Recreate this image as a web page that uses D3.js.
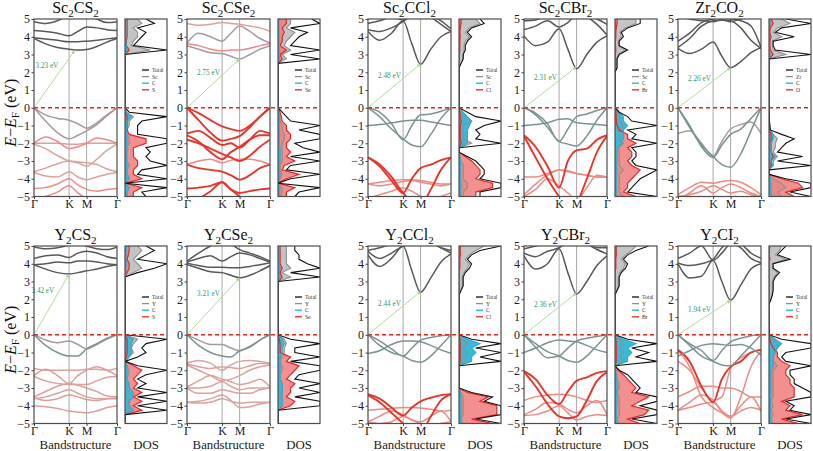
<!DOCTYPE html>
<html><head><meta charset="utf-8">
<script src="https://cdnjs.cloudflare.com/ajax/libs/d3/7.8.5/d3.min.js"></script>
<style>body{margin:0;background:#fff} svg{display:block} text{font-family:"Liberation Serif","Times New Roman",serif}</style>
</head><body><svg id="c" width="813" height="451"></svg>
<script>
// ---------- shared axes data ----------
const kNodes = [0, 1, 1.5, 2.366];
const kLabels = ["Γ", "K", "M", "Γ"];
const kSamples = [0, 0.33, 0.67, 1, 1.25, 1.5, 1.79, 2.08, 2.366];
const energyTicks = [5, 4, 3, 2, 1, 0, -1, -2, -3, -4, -5];
const dosEnergy = [-5,-4.75,-4.5,-4.25,-4,-3.75,-3.5,-3.25,-3,-2.75,-2.5,-2.25,-2,-1.75,-1.5,-1.25,-1,-0.75,-0.5,-0.25,
  0,0.25,0.5,0.75,1,1.25,1.5,1.75,2,2.25,2.5,2.75,3,3.25,3.5,3.75,4,4.25,4.5,4.75,5];

// ---------- panel descriptors ----------
const titles = [["Sc","2","CS","2"],["Sc","2","CSe","2"],["Sc","2","CCl","2"],["Sc","2","CBr","2"],["Zr","2","CO","2"],
                ["Y","2","CS","2"],["Y","2","CSe","2"],["Y","2","CCl","2"],["Y","2","CBr","2"],["Y","2","CI","2"]];
const metals = ["Sc","Sc","Sc","Sc","Zr","Y","Y","Y","Y","Y"];
const anions = ["S","Se","Cl","Br","O","S","Se","Cl","Br","I"];
const gapValues = [3.23, 2.75, 2.48, 2.31, 2.26, 3.42, 3.21, 2.44, 2.36, 1.94];
const cbmK = [1.16, 1.5, 1.5, 1.5, 1.5, 1.0, 1.5, 1.5, 1.5, 1.5];

// ---------- band structures (E at kSamples) ----------
const bands_Sc2CS2 = [
 [3.9,3.6,3.4,3.3,3.25,3.28,3.45,3.7,3.9],[3.95,3.88,3.8,3.72,3.72,3.75,3.8,3.88,3.95],
 [4.35,4.3,4.2,4.05,4.3,4.55,4.5,4.4,4.35],[4.85,4.75,4.9,5.2,5.2,5.2,5.0,4.8,4.85],
 [0,-0.4,-0.6,-0.7,-0.9,-1.15,-0.85,-0.4,0],[0,-0.75,-1.4,-1.75,-1.55,-1.3,-0.95,-0.45,0],
 [-2.0,-1.65,-1.9,-2.3,-2.2,-2.0,-1.7,-1.8,-2.0],[-2.0,-2.0,-2.0,-2.05,-2.05,-2.0,-2.0,-2.0,-2.0],
 [-2.05,-2.3,-2.7,-3.0,-3.1,-3.3,-2.9,-2.4,-2.05],[-3.6,-3.4,-3.15,-3.0,-3.05,-3.1,-3.2,-3.45,-3.6],
 [-3.65,-3.85,-3.9,-3.6,-3.9,-4.05,-3.9,-3.75,-3.65],[-4.55,-4.5,-4.3,-4.0,-4.35,-4.6,-4.7,-4.6,-4.55],
 [-5.2,-5.0,-4.75,-4.4,-4.8,-5.1,-5.2,-5.2,-5.2]];
const kinds_Sc2CS2 = ["M","M","M","M","MCX","MCX","Xl","XM","XM","XM","XM","Xl","Xl"];

const bands_Sc2CSe2 = [
 [3.5,3.3,3.1,3.05,2.9,2.75,3.0,3.3,3.5],[3.6,3.5,3.3,3.2,3.25,3.25,3.35,3.5,3.6],
 [3.65,4.2,4.0,3.75,4.2,4.6,4.3,3.9,3.65],[4.75,4.65,4.7,4.8,4.75,4.7,4.6,4.5,4.3],
 [0,-0.3,-0.7,-1.05,-1.2,-1.3,-1.0,-0.5,0],[0,-0.7,-1.4,-1.85,-1.75,-1.6,-1.1,-0.5,0],
 [-1.45,-1.3,-1.7,-2.1,-2.0,-2.25,-1.8,-1.3,-1.45],[-1.55,-1.9,-2.5,-2.9,-2.5,-2.2,-1.8,-1.55,-1.55],
 [-1.8,-2.0,-2.3,-2.6,-2.8,-3.0,-2.7,-2.2,-1.8],[-3.2,-3.0,-2.9,-3.1,-2.95,-2.9,-2.9,-3.0,-3.2],
 [-3.2,-3.4,-3.5,-3.6,-3.8,-4.05,-3.8,-3.4,-3.2],[-4.55,-4.5,-4.4,-4.2,-4.6,-4.8,-4.7,-4.6,-4.55],
 [-5.3,-5.1,-4.7,-4.2,-4.6,-5.0,-5.3,-5.3,-5.3]];
const kinds_Sc2CSe2 = ["MCX","Xl","MCX","XM","X","X","X","X","X","Xl","X","X","X"];

const bands_Sc2CCl2 = [
 [4.3,3.8,4.2,4.9,3.6,2.45,3.3,4.0,4.3],[4.75,4.9,5.1,4.95,5.3,5.4,5.2,4.9,4.45],
 [4.4,4.3,4.5,4.85,5.2,5.3,5.1,4.7,4.3],
 [0,-0.5,-1.2,-1.75,-2.1,-2.2,-1.5,-0.6,0],[0,-0.25,-0.9,-1.8,-1.0,-0.4,-0.35,-0.2,0],
 [-1.0,-0.95,-0.85,-0.75,-0.7,-0.7,-0.8,-0.9,-1.0],
 [-2.8,-3.3,-4.1,-4.8,-4.0,-3.4,-3.2,-2.95,-2.8],[-2.8,-3.2,-3.9,-4.8,-5.3,-5.5,-4.6,-3.5,-2.8],
 [-4.3,-4.2,-4.1,-4.05,-4.05,-4.1,-4.2,-4.3,-4.3],[-4.3,-4.4,-4.3,-4.15,-4.1,-4.2,-4.3,-4.4,-4.3],
 [-5.1,-4.9,-4.7,-4.5,-4.7,-5.0,-5.3,-5.0,-4.8]];
const kinds_Sc2CCl2 = ["M","M","M","MC","MC","MC","X","X","Xl","Xl","Xl"];

const bands_Sc2CBr2 = [
 [4.05,3.5,3.7,4.45,3.3,2.2,3.0,3.7,4.05],[4.4,4.6,4.9,4.55,4.8,5.2,5.1,4.7,4.1],
 [4.9,4.95,5.2,5.3,5.3,5.3,5.2,5.0,4.7],
 [0,-0.4,-1.1,-1.9,-2.05,-2.15,-1.6,-0.7,0],[0,-0.3,-0.9,-1.9,-1.2,-0.5,-0.35,-0.15,0],
 [-1.0,-0.95,-0.85,-0.65,-0.62,-0.85,-0.9,-0.95,-1.0],
 [-1.55,-2.2,-3.3,-4.5,-3.0,-2.4,-2.3,-1.8,-1.55],[-1.6,-2.8,-4.0,-5.0,-5.5,-5.3,-4.0,-2.5,-1.6],
 [-4.9,-4.3,-3.8,-3.5,-3.55,-3.7,-3.8,-3.9,-3.9],[-3.9,-3.9,-3.7,-3.5,-3.6,-3.7,-3.8,-3.9,-3.9],
 [-5.0,-4.6,-4.0,-4.4,-4.8,-5.2,-4.5,-3.8,-3.9]];
const kinds_Sc2CBr2 = ["M","M","M","MC","MC","MC","X","X","Xl","Xl","Xl"];

const bands_Zr2CO2 = [
 [3.35,3.05,3.3,3.7,2.9,2.26,2.6,3.1,3.4],[3.4,3.9,4.6,4.9,4.95,4.9,4.5,3.8,3.35],
 [3.75,4.2,4.8,5.0,5.1,5.0,4.9,4.6,3.4],[5.2,5.0,4.9,4.85,4.95,4.85,5.0,5.2,5.3],
 [0,-1.1,-2.1,-2.75,-3.2,-3.35,-2.6,-1.3,0],[-1.45,-1.3,-2.0,-2.7,-1.9,-1.2,-0.95,-0.8,-1.45],
 [0,-1.0,-2.2,-2.8,-2.1,-1.5,-1.2,-0.6,0],
 [-4.9,-4.5,-4.2,-4.25,-4.15,-4.1,-4.2,-4.5,-4.9],[-5.2,-4.8,-4.4,-4.8,-4.5,-4.3,-4.5,-4.8,-5.0],
 [-5.0,-4.9,-4.7,-4.4,-4.6,-4.8,-4.7,-4.9,-5.0]];
const kinds_Zr2CO2 = ["M","M","M","M","MC","MCX","MC","Xl","Xl","Xl"];

const bands_Y2CS2 = [
 [3.95,3.7,3.5,3.42,3.5,3.6,3.7,3.85,3.95],[3.95,4.0,4.1,4.05,4.15,4.15,4.1,4.0,3.95],
 [4.3,4.45,4.5,4.35,4.6,4.7,4.6,4.4,4.3],[4.95,4.85,4.9,5.05,5.1,5.0,4.85,4.8,4.95],
 [0,-0.3,-0.45,-0.35,-0.55,-0.8,-0.55,-0.25,0],[0,-0.6,-1.0,-1.2,-1.2,-0.8,-0.5,-0.2,0],
 [-1.9,-2.0,-2.0,-2.0,-2.0,-1.95,-1.95,-2.0,-1.9],[-2.3,-1.95,-2.3,-2.75,-2.3,-2.0,-1.8,-2.0,-2.3],
 [-2.35,-2.6,-2.75,-2.8,-2.8,-2.8,-2.6,-2.4,-2.35],[-3.5,-3.2,-2.9,-2.75,-2.85,-3.0,-3.2,-3.45,-3.5],
 [-3.6,-3.5,-3.3,-3.1,-3.3,-3.5,-3.6,-3.6,-3.6],[-3.55,-3.7,-3.6,-3.4,-3.5,-3.65,-3.7,-3.6,-3.55],
 [-4.0,-4.05,-4.15,-4.3,-4.35,-4.4,-4.3,-4.1,-4.0]];
const kinds_Y2CS2 = ["M","M","M","M","MCX","MC","XM","XM","XM","XM","XM","XM","XM"];

const bands_Y2CSe2 = [
 [3.95,3.75,3.55,3.5,3.35,3.21,3.35,3.6,3.9],[4.05,3.9,3.8,3.8,3.78,3.78,3.85,3.95,4.05],
 [4.1,4.3,4.45,4.15,4.4,4.6,4.5,4.3,4.1],[4.15,4.6,5.0,5.2,5.1,4.8,4.6,4.4,4.15],
 [0,-0.3,-0.55,-0.55,-0.75,-0.9,-0.65,-0.3,0],[0,-0.6,-1.0,-1.2,-1.25,-0.9,-0.7,-0.3,0],
 [-1.6,-1.45,-1.6,-2.0,-1.7,-1.5,-1.45,-1.5,-1.6],[-1.65,-1.8,-1.9,-1.8,-1.85,-1.9,-1.75,-1.6,-1.65],
 [-1.7,-2.0,-2.3,-2.6,-2.5,-2.3,-2.0,-1.8,-1.7],[-2.95,-2.6,-2.3,-2.5,-2.65,-2.8,-2.7,-2.5,-2.95],
 [-3.0,-3.0,-2.9,-2.65,-2.9,-3.1,-3.0,-3.0,-3.0],[-3.0,-3.3,-3.3,-3.1,-3.2,-3.3,-3.3,-3.1,-3.0],
 [-3.8,-3.75,-3.6,-3.4,-3.7,-4.1,-4.05,-3.9,-3.8],[-3.8,-3.85,-3.8,-3.6,-3.75,-3.85,-3.8,-3.8,-3.8]];
const kinds_Y2CSe2 = ["M","M","M","M","MCX","MC","XM","XM","XM","XM","XM","XM","XM","XM"];

const bands_Y2CCl2 = [
 [4.5,3.85,4.3,5.0,3.6,2.4,3.2,4.1,4.55],[4.7,4.3,4.6,5.0,5.2,5.3,5.2,4.9,4.6],
 [4.75,4.9,5.1,5.3,5.4,5.4,5.2,4.9,4.75],
 [0,-0.6,-1.0,-1.2,-1.45,-1.55,-1.2,-0.6,0],[0,-0.35,-0.8,-1.2,-0.75,-0.3,-0.15,-0.05,0],
 [-1.05,-0.9,-0.55,-0.35,-0.35,-0.4,-0.6,-0.85,-1.05],
 [-3.35,-3.6,-4.1,-4.55,-4.1,-3.75,-3.55,-3.4,-3.35],[-3.4,-3.8,-4.4,-5.0,-5.4,-5.5,-4.6,-3.7,-3.35],
 [-4.25,-4.2,-4.15,-4.1,-4.1,-4.12,-4.2,-4.3,-4.25],[-4.9,-4.6,-4.3,-4.5,-4.8,-4.9,-4.6,-4.3,-4.9],
 [-4.9,-5.0,-4.9,-4.6,-4.8,-5.0,-5.1,-5.0,-4.9]];
const kinds_Y2CCl2 = ["M","M","M","MC","MC","MC","X","X","Xl","Xl","Xl"];

const bands_Y2CBr2 = [
 [4.45,3.7,4.0,4.85,3.5,2.3,3.0,3.9,4.45],[4.6,4.4,4.7,4.9,5.2,5.3,5.1,4.8,4.55],
 [4.85,5.0,5.2,5.3,5.3,5.3,5.1,4.9,4.9],
 [0,-0.5,-0.95,-1.2,-1.45,-1.55,-1.2,-0.6,0],[0,-0.7,-1.3,-1.2,-0.75,-0.35,-0.2,-0.1,0],
 [-1.0,-0.75,-0.45,-0.3,-0.35,-0.4,-0.6,-0.85,-1.0],
 [-2.05,-2.5,-3.4,-3.9,-3.2,-2.6,-2.4,-2.15,-2.05],[-2.1,-2.9,-3.9,-4.6,-4.7,-4.6,-3.7,-2.6,-2.1],
 [-3.7,-3.5,-3.4,-3.35,-3.4,-3.5,-3.7,-3.8,-3.7],[-4.5,-4.2,-3.8,-3.9,-4.2,-4.4,-4.0,-3.7,-4.5],
 [-4.55,-4.5,-4.3,-4.0,-4.4,-4.8,-4.6,-4.5,-4.55]];
const kinds_Y2CBr2 = ["M","M","M","MC","MC","MC","X","X","Xl","Xl","Xl"];

const bands_Y2CI2 = [
 [4.0,3.2,3.3,4.2,3.0,1.94,2.8,3.7,4.0],[4.3,4.6,5.0,4.2,4.6,5.1,4.9,4.3,4.05],
 [4.05,3.9,4.0,4.25,4.9,5.2,5.1,4.6,4.3],
 [0,-0.6,-1.2,-1.5,-1.7,-1.75,-1.2,-0.6,0],[0,-0.5,-0.9,-1.45,-0.9,-0.4,-0.2,-0.05,0],
 [-1.2,-0.9,-0.6,-0.5,-0.55,-0.6,-0.55,-0.75,-1.15],
 [-0.85,-1.5,-2.9,-3.8,-2.5,-1.8,-1.5,-1.0,-0.85],[-0.9,-1.8,-3.5,-4.1,-4.4,-4.7,-3.5,-1.8,-0.9],
 [-1.5,-2.0,-3.0,-3.7,-3.5,-1.9,-1.3,-1.0,-0.85],
 [-3.5,-3.2,-2.9,-2.9,-3.0,-3.0,-3.2,-3.5,-3.5],[-4.25,-3.8,-3.4,-3.7,-4.3,-4.6,-4.0,-3.5,-4.3],
 [-4.25,-4.1,-3.9,-3.8,-4.3,-4.6,-4.3,-4.1,-4.25]];
const kinds_Y2CI2 = ["M","M","M","MC","MC","MC","X","Xl","Xl","Xl","Xl","Xl"];

// ---------- DOS (values on dosEnergy grid, 0..10 = panel width) ----------
const Sc2CS2_total = [5,4,10,0, 10,3,4,10, 6,5,6,5, 10,10,3,3, 3,4,10,1, 0,0,0,0, 0,0,0,0, 0,0,0,0, 0,10,2,3, 4,5,3,7, 5];
const Sc2CS2_metal = [0.5,0.5,1,0, 1,0.5,0.5,1, 0.5,0.5,0.5,0.5, 1,1,0.5,0.5, 1,1,2,0.3, 0,0,0,0, 0,0,0,0, 0,0,0,0, 0,6,1.5,2, 3,3,2,4, 3];
const Sc2CS2_C     = [0.5,0.5,1,0, 1,0.5,0.3,0.5, 0.3,0.3,0.3,0.3, 0.5,0.5,0.3,0.3, 0.3,0.5,1.5,0.3, 0,0,0,0, 0,0,0,0, 0,0,0,0, 0,0.5,0.3,0.2, 0.2,0.2,0.2,0.2, 0.2];
const Sc2CS2_X     = [2,2,4,0, 4,2,2,3, 3,2,2,2, 5,5,1,0.5, 0.5,0.5,0.5,0.2, 0,0,0,0, 0,0,0,0, 0,0,0,0, 0,1,0.3,0.3, 0.5,0.5,0.5,0.5, 0.5];

const Sc2CSe2_total = [4,5,10,0, 3,10,2,3, 10,3,10,6, 4,10,10,5, 10,3,2,1, 0,0,0,0, 0,0,0,0, 0,0,0,10, 3,10,3,4, 5,7,3,10, 8];
const Sc2CSe2_metal = [0.5,1,1,0, 0.5,1,0.5,0.5, 1,1,1,1, 1,1.5,1.5,1, 1,0.5,0.5,0.3, 0,0,0,0, 0,0,0,0, 0,0,0,2, 1,3,1.5,2, 3,4,2,3, 3];
const Sc2CSe2_C     = [0.3,0.3,0.5,0, 0.3,0.5,0.3,0.3, 0.5,0.5,0.5,0.5, 0.3,0.3,0.3,0.3, 0.3,0.3,0.3,0.2, 0,0,0,0, 0,0,0,0, 0,0,0,0.3, 0.2,0.3,0.2,0.2, 0.2,0.2,0.2,0.2, 0.2];
const Sc2CSe2_X     = [2,2,4,0, 2,5,1,1.5, 4,2,3,2, 2,3,3,2, 2,1,0.8,0.5, 0,0,0,0, 0,0,0,0, 0,0,0,1, 0.5,2,0.5,1, 1,1.5,1,2, 2];

const Sc2CCl2_total = [5,5,10,10, 5,6,6,5, 4,2,0,0, 10,4,5,4, 6,10,4,2, 0,0,0,0, 0,0,0,0, 0,0,0.5,1, 1,1.5,1.5,2, 3,2,3,6, 5];
const Sc2CCl2_metal = [1,1,2,2, 1,1,1,1, 0.5,0.3,0,0, 3,1,1,1, 1,3,1,0.5, 0,0,0,0, 0,0,0,0, 0,0,0.5,1, 1,1.2,1.2,1.5, 2.5,1.5,2.5,5, 4];
const Sc2CCl2_C     = [0.3,0.3,0.5,0.5, 0.3,0.3,0.3,0.3, 0.3,0.2,0,0, 2,2,2,2, 2.5,3,2,1, 0,0,0,0, 0,0,0,0, 0,0,0,0, 0,0,0,0, 0,0,0,0, 0];
const Sc2CCl2_X     = [4,4,8,8, 4,5,5,4, 3,1.5,0,0, 0.5,0.3,0.3,0.3, 0.3,0.5,0.3,0.2, 0,0,0,0, 0,0,0,0, 0,0,0,0.1, 0.1,0.2,0.2,0.2, 0.3,0.2,0.3,0.5, 0.5];

const Sc2CBr2_total = [10,3,4,5, 6,8,10,5, 4,5,5,4, 10,4,5,3, 10,4,3,1, 0,0,0,0, 0,0,0,0, 0,0.5,0.5,0.5, 1,3,1,1, 2,1.5,3,6, 6];
const Sc2CBr2_metal = [2,1,1,1, 1,1,2,1, 1,1,1,1, 2,1,1,1, 2,1,1,0.5, 0,0,0,0, 0,0,0,0, 0,0.4,0.4,0.4, 0.8,2.5,0.8,0.8, 1.5,1.2,2.5,5, 5];
const Sc2CBr2_C     = [0.3,0.3,0.3,0.3, 0.3,0.3,0.5,0.3, 0.5,0.5,0.5,0.5, 1.5,2,2,2, 3,2,2,1, 0,0,0,0, 0,0,0,0, 0,0,0,0, 0,0,0,0, 0,0,0,0, 0];
const Sc2CBr2_X     = [5,2,3,3, 4,5,6,4, 3,4,4,3, 5,3,3,1, 0.5,0.3,0.3,0.2, 0,0,0,0, 0,0,0,0, 0,0.1,0.1,0.1, 0.1,0.2,0.1,0.1, 0.2,0.2,0.3,0.5, 0.5];

const Zr2CO2_total = [10,5,10,10, 4,0,0,10, 2,8,2,3, 4,6,3,0.3, 0.2,0.1,0.1,0, 0,0,0,0, 0,0,0,0, 0,0,0,0, 10,1.5,1,1, 6,1.5,3,10, 4];
const Zr2CO2_metal = [3,2,4,3, 1,0,0,1, 1,2,1,1.5, 1.5,2,1,0.3, 0.2,0.1,0.1,0, 0,0,0,0, 0,0,0,0, 0,0,0,0, 4,1,0.8,0.8, 3,1,2,5, 3];
const Zr2CO2_C     = [0.5,0.5,0.5,0.5, 0.3,0,0,1, 0.5,1.5,0.5,0.5, 0.5,1,1,0.3, 0.1,0.1,0.1,0, 0,0,0,0, 0,0,0,0, 0,0,0,0, 0.3,0.1,0.1,0.1, 0.2,0.1,0.1,0.3, 0.2];
const Zr2CO2_X     = [6,4,8,7, 3,0,0,0.5, 0.5,1,0.5,0.5, 0.5,0.5,0.5,0.2, 0.1,0,0,0, 0,0,0,0, 0,0,0,0, 0,0,0,0, 1,0.3,0.2,0.2, 0.5,0.2,0.3,1, 0.5];

const Y2CS2_total = [0,0,0,10, 3,10,3,10, 3,5,3,5, 10,3,0,3, 5,4,5,10, 0,0,0,0, 0,0,0,0, 0,0,0,0, 0,0,3,7, 10,3,5,7, 5];
const Y2CS2_metal = [0,0,0,1, 0.5,1,0.5,1, 0.5,0.8,0.5,0.8, 1,0.5,0,1, 2,1.5,2,3, 0,0,0,0, 0,0,0,0, 0,0,0,0, 0,0,2,4, 3,2,3,4, 3];
const Y2CS2_C     = [0,0,0,2, 1,1,2,2, 1,1,0.5,0.5, 0.5,0.5,0,1, 1.5,1.5,1.5,2, 0,0,0,0, 0,0,0,0, 0,0,0,0, 0,0,0.2,0.2, 0.3,0.2,0.2,0.3, 0.3];
const Y2CS2_X     = [0,0,0,4, 2,4,2,4, 2,3,2,3, 4,2,0,0.3, 0.5,0.5,0.5,0.5, 0,0,0,0, 0,0,0,0, 0,0,0,0, 0,0,0.5,1, 1,0.5,0.8,1, 1];

const Y2CSe2_total = [0,0,0,0, 10,10,4,10, 5,10,4,5, 10,10,3,10, 4,4,10,3, 0,0,0,0, 0,0,0,0, 0,0,0,0, 0,10,3,10, 7,5,5,4, 4];
const Y2CSe2_metal = [0,0,0,0, 1,1,0.5,1, 1,1,0.5,0.5, 1,1,0.5,1, 1.5,1.5,2,1.5, 0,0,0,0, 0,0,0,0, 0,0,0,0, 0,3,1,3, 2,2,2,2, 2];
const Y2CSe2_C     = [0,0,0,0, 1,1,1,1, 1,1,0.5,0.5, 0.5,0.5,0.5,0.5, 1,1,1.5,1, 0,0,0,0, 0,0,0,0, 0,0,0,0, 0,0.5,0.3,0.5, 0.3,0.2,0.2,0.2, 0.2];
const Y2CSe2_X     = [0,0,0,0, 3,4,2,3, 3,4,2,3, 4,5,2,3, 0.5,0.5,0.5,0.3, 0,0,0,0, 0,0,0,0, 0,0,0,0, 0,1,0.5,1, 0.5,0.5,0.5,0.5, 0.5];

const Y2CCl2_total = [10,4,10,10, 10,6,8,3, 0,0,0,0, 0,0,10,5, 10,4,10,3, 0,0,0,0, 0,0,0,0, 0,0,0.5,1, 1,1,1.5,2.5, 3,2,3,5, 10];
const Y2CCl2_metal = [1,0.5,1,1, 1,1,1,0.5, 0,0,0,0, 0,0,2,1, 2,1,2,1, 0,0,0,0, 0,0,0,0, 0,0,0.4,0.8, 0.8,0.8,1.2,2, 2.5,1.5,2.5,4, 6];
const Y2CCl2_C     = [0.5,0.3,0.5,0.5, 0.5,0.5,0.5,0.3, 0,0,0,0, 0,0,3,3, 4,3,5,2, 0,0,0,0, 0,0,0,0, 0,0,0,0, 0,0,0,0, 0,0,0,0, 0];
const Y2CCl2_X     = [8,3,9,9, 9,5,7,2, 0,0,0,0, 0,0,0.3,0.3, 0.3,0.3,0.3,0.2, 0,0,0,0, 0,0,0,0, 0,0,0,0, 0,0,0,0.2, 0.2,0.2,0.3,0.3, 0.3];

const Y2CBr2_total = [10,4,10,10, 6,10,10,5, 6,5,4,3, 1,0,10,5, 8,4,10,3, 0,0,0,0, 0,0,0,0, 0,0,0.5,1, 1,1,1.5,2.5, 3,2,3,5, 8];
const Y2CBr2_metal = [1,0.5,1,1, 1,1,1,0.5, 1,1,0.5,0.5, 0.2,0,2,1, 2,1,2,1, 0,0,0,0, 0,0,0,0, 0,0,0.4,0.8, 0.8,0.8,1.2,2, 2.5,1.5,2.5,4, 5];
const Y2CBr2_C     = [0.3,0.3,0.3,0.3, 0.3,0.5,0.5,0.3, 0.5,0.5,0.3,0.3, 0.2,0,3,3, 4,3,5,2, 0,0,0,0, 0,0,0,0, 0,0,0,0, 0,0,0,0, 0,0,0,0, 0];
const Y2CBr2_X     = [6,3,7,8, 4,6,8,4, 5,4,3,2, 0.8,0,0.3,0.3, 0.3,0.3,0.3,0.2, 0,0,0,0, 0,0,0,0, 0,0,0,0, 0,0,0,0.2, 0.2,0.2,0.3,0.3, 0.3];

const Y2CI2_total = [10,4,10,5, 6,4,10,10, 8,6,6,5, 5,10,4,3, 4,10,10,3, 0,0,0,0, 0,0,0,0, 0.5,0.8,1,1, 1,1.5,2.5,1, 1,5,2,3, 4];
const Y2CI2_metal = [1,0.5,1,0.5, 1,0.5,1,1, 1,1,1,1, 1,2,1,1, 1,2,2,1, 0,0,0,0, 0,0,0,0, 0.4,0.7,0.8,0.8, 0.8,1.2,2,0.8, 0.8,4,1.5,2.5, 3];
const Y2CI2_C     = [0.3,0.3,0.3,0.3, 0.3,0.3,0.5,0.5, 0.5,0.5,0.5,0.5, 0.5,1,1,1, 1.5,2,3,1.5, 0,0,0,0, 0,0,0,0, 0,0,0,0, 0,0,0,0, 0,0,0,0, 0];
const Y2CI2_X     = [7,3,8,4, 5,3,6,6, 6,5,5,4, 4,5,3,2, 2,1,0.5,0.2, 0,0,0,0, 0,0,0,0, 0,0,0,0, 0,0,0,0, 0,0.2,0.1,0.1, 0.2];

const panels = [
 {bands:bands_Sc2CS2, kinds:kinds_Sc2CS2, dos:[Sc2CS2_total,Sc2CS2_metal,Sc2CS2_C,Sc2CS2_X]},
 {bands:bands_Sc2CSe2,kinds:kinds_Sc2CSe2,dos:[Sc2CSe2_total,Sc2CSe2_metal,Sc2CSe2_C,Sc2CSe2_X]},
 {bands:bands_Sc2CCl2,kinds:kinds_Sc2CCl2,dos:[Sc2CCl2_total,Sc2CCl2_metal,Sc2CCl2_C,Sc2CCl2_X]},
 {bands:bands_Sc2CBr2,kinds:kinds_Sc2CBr2,dos:[Sc2CBr2_total,Sc2CBr2_metal,Sc2CBr2_C,Sc2CBr2_X]},
 {bands:bands_Zr2CO2, kinds:kinds_Zr2CO2, dos:[Zr2CO2_total,Zr2CO2_metal,Zr2CO2_C,Zr2CO2_X]},
 {bands:bands_Y2CS2,  kinds:kinds_Y2CS2,  dos:[Y2CS2_total,Y2CS2_metal,Y2CS2_C,Y2CS2_X]},
 {bands:bands_Y2CSe2, kinds:kinds_Y2CSe2, dos:[Y2CSe2_total,Y2CSe2_metal,Y2CSe2_C,Y2CSe2_X]},
 {bands:bands_Y2CCl2, kinds:kinds_Y2CCl2, dos:[Y2CCl2_total,Y2CCl2_metal,Y2CCl2_C,Y2CCl2_X]},
 {bands:bands_Y2CBr2, kinds:kinds_Y2CBr2, dos:[Y2CBr2_total,Y2CBr2_metal,Y2CBr2_C,Y2CBr2_X]},
 {bands:bands_Y2CI2,  kinds:kinds_Y2CI2,  dos:[Y2CI2_total,Y2CI2_metal,Y2CI2_C,Y2CI2_X]}
];

// ---------- drawing ----------
const FONT = '"Liberation Serif","Times New Roman",serif';
const svg = d3.select("#c");
const bandLeft = [34, 187, 368, 524, 678], bandW = 83, dosGap = 91, dosW = 42;
const rowTop = [19, 246], rowH = 177.5;
const kindColor = {M:"#595959", MC:"#7a9494", MCX:"#a89b9b", XM:"#dca19d", Xl:"#ee8a84", X:"#e8352b"};
const kindOrder = ["XM","Xl","X","MCX","MC","M"];
const dosColors = {total:"#111", metal:"#8f8f8f", C:"#1fb1d6", X:"#ec2424"};

const defs = svg.append("defs");
defs.append("marker").attr("id","ah").attr("viewBox","0 0 10 10").attr("refX",9).attr("refY",5)
  .attr("markerWidth",4).attr("markerHeight",4).attr("orient","auto")
  .append("path").attr("d","M0,1L10,5L0,9z").attr("fill","#a6d68c");

panels.forEach((p, i) => {
  const col = i % 5, row = Math.floor(i / 5);
  const bx = bandLeft[col], top = rowTop[row], dx = bx + dosGap;
  const x = d3.scaleLinear().domain([0, kNodes[3]]).range([bx, bx + bandW]);
  const y = d3.scaleLinear().domain([-5, 5]).range([top + rowH, top]);
  const xd = d3.scaleLinear().domain([0, 10]).range([dx, dx + dosW]);

  defs.append("clipPath").attr("id","cb"+i).append("rect").attr("x",bx).attr("y",top).attr("width",bandW).attr("height",rowH);
  defs.append("clipPath").attr("id","cd"+i).append("rect").attr("x",dx).attr("y",top).attr("width",dosW).attr("height",rowH);

  const g = svg.append("g");
  g.selectAll("line.hs").data([kNodes[1], kNodes[2]]).join("line").attr("class","hs")
    .attr("x1",d=>x(d)).attr("x2",d=>x(d)).attr("y1",top).attr("y2",top+rowH)
    .attr("stroke","#a8a8a8").attr("stroke-width",1);

  const line = d3.line().x((d,j)=>x(kSamples[j])).y(d=>y(d)).curve(d3.curveMonotoneX);
  const gb = g.append("g").attr("clip-path",`url(#cb${i})`);
  const idx = p.bands.map((b,j)=>j).sort((a,b)=>kindOrder.indexOf(p.kinds[a])-kindOrder.indexOf(p.kinds[b]));
  idx.forEach(j => {
    gb.append("path").attr("d", line(p.bands[j])).attr("fill","none")
      .attr("stroke", kindColor[p.kinds[j]]).attr("stroke-width", p.kinds[j]==="X" ? 1.9 : 1.5)
      .attr("stroke-linejoin","round");
  });

  const gd = g.append("g").attr("clip-path",`url(#cd${i})`);
  const [tot, met, cc, xx] = p.dos;
  const area = d3.area().y((d,j)=>y(dosEnergy[j])).x0(dx).x1(d=>xd(d));
  const dline = d3.line().y((d,j)=>y(dosEnergy[j])).x(d=>xd(d));
  gd.append("path").attr("d",area(met)).attr("fill","#c4c4c4").attr("stroke","none");
  gd.append("path").attr("d",area(xx)).attr("fill","#f07c7c").attr("fill-opacity",0.85).attr("stroke","none");
  gd.append("path").attr("d",area(cc)).attr("fill","#3bb8d8").attr("stroke","none");
  gd.append("path").attr("d",dline(met)).attr("fill","none").attr("stroke",dosColors.metal).attr("stroke-width",1.1);
  gd.append("path").attr("d",dline(xx)).attr("fill","none").attr("stroke",dosColors.X).attr("stroke-width",1.2);
  gd.append("path").attr("d",dline(cc)).attr("fill","none").attr("stroke",dosColors.C).attr("stroke-width",1.1);
  gd.append("path").attr("d",dline(tot)).attr("fill","none").attr("stroke",dosColors.total).attr("stroke-width",1.1);

  g.append("line").attr("x1",bx).attr("x2",dx+dosW).attr("y1",y(0)).attr("y2",y(0))
    .attr("stroke","#e8231d").attr("stroke-width",1.6).attr("stroke-dasharray","4,3");

  const ax1 = x(0), ay1 = y(0), ax2 = x(cbmK[i]), ay2 = y(gapValues[i]);
  g.append("line").attr("x1",ax1).attr("y1",ay1).attr("x2",ax2).attr("y2",ay2)
    .attr("stroke","#b3dc9a").attr("stroke-width",1).attr("marker-end","url(#ah)");
  const t = 0.72;
  g.append("text").attr("x", ax1 + t*(ax2-ax1) - 5).attr("y", ay1 + t*(ay2-ay1) + 2)
    .attr("text-anchor","end").attr("font-size",7.2).attr("fill","#2f9a68")
    .text(gapValues[i].toFixed(2) + " eV");

  g.append("rect").attr("x",bx).attr("y",top).attr("width",bandW).attr("height",rowH)
    .attr("fill","none").attr("stroke","#4d4d4d").attr("stroke-width",1.2);
  g.append("rect").attr("x",dx).attr("y",top).attr("width",dosW).attr("height",rowH)
    .attr("fill","none").attr("stroke","#4d4d4d").attr("stroke-width",1.2);

  const ya = g.append("g").attr("transform",`translate(${bx},0)`)
    .call(d3.axisLeft(y).tickValues(energyTicks).tickSize(2.5).tickPadding(1.5)
      .tickFormat(d => d < 0 ? "\u2212" + (-d) : String(d)));
  ya.attr("font-family", FONT).attr("font-size", 12);
  ya.select(".domain").remove();
  ya.selectAll("line").attr("stroke","#444");
  ya.selectAll("text").attr("fill","#222");

  const xa = g.append("g").attr("transform",`translate(0,${top+rowH})`)
    .call(d3.axisBottom(x).tickValues(kNodes).tickSize(2.5).tickPadding(0.5)
      .tickFormat((d,j)=>kLabels[j]));
  xa.attr("font-family", FONT).attr("font-size", 12);
  xa.select(".domain").remove();
  xa.selectAll("line").attr("stroke","#444");
  xa.selectAll("text").attr("fill","#222");

  const tt = g.append("text").attr("x", bx + bandW/2).attr("y", top - 6)
    .attr("text-anchor","middle").attr("font-size",16).attr("fill","#111");
  titles[i].forEach((s, j) => {
    const sub = j % 2 === 1;
    const ts = tt.append("tspan").text(s).attr("font-size", sub ? 11 : 16);
    if (sub) ts.attr("dy", 4); else if (j > 0) ts.attr("dy", -4);
  });

  const leg = [["Total",dosColors.total],[metals[i],dosColors.metal],["C",dosColors.C],[anions[i],dosColors.X]];
  leg.forEach((l, j) => {
    const ly = top + 51 + j*6.6;
    g.append("line").attr("x1",dx+17).attr("x2",dx+24).attr("y1",ly).attr("y2",ly)
      .attr("stroke",l[1]).attr("stroke-width",1.3);
    g.append("text").attr("x",dx+27).attr("y",ly+2).attr("font-size",5.6).attr("fill","#333").text(l[0]);
  });

  if (row === 1) {
    g.append("text").attr("x",bx+bandW/2).attr("y",449).attr("text-anchor","middle")
      .attr("font-size",12.8).attr("fill","#222").text("Bandstructure");
    g.append("text").attr("x",dx+dosW/2).attr("y",449).attr("text-anchor","middle")
      .attr("font-size",12.8).attr("fill","#222").text("DOS");
  }
  if (col === 0) {
    const yl = g.append("text").attr("transform",`translate(16,${top+rowH/2+5}) rotate(-90)`)
      .attr("text-anchor","middle").attr("font-size",16).attr("fill","#111");
    yl.append("tspan").attr("font-style","italic").text("E");
    yl.append("tspan").text("\u2212");
    yl.append("tspan").attr("font-style","italic").text("E");
    yl.append("tspan").attr("font-size",11).attr("dy",3).text("F");
    yl.append("tspan").attr("dy",-3).text(" (eV)");
  }
});
</script></body></html>
